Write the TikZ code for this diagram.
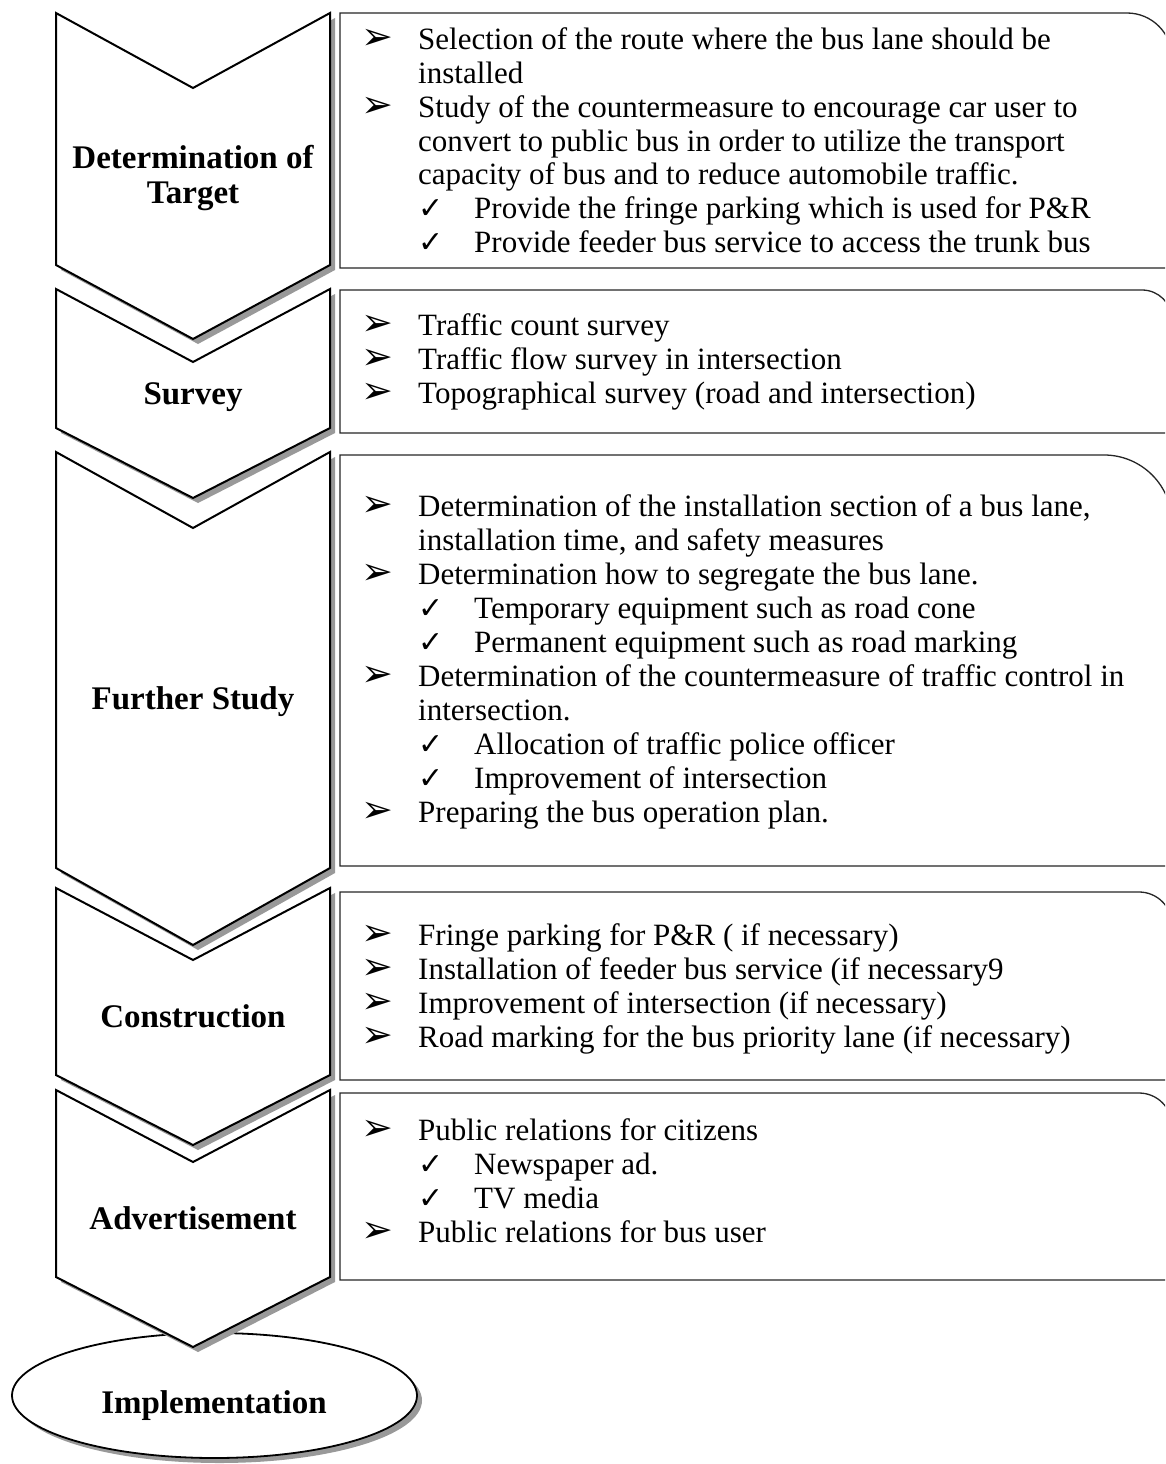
\documentclass[tikz,border=0pt]{standalone}
\usepackage{fontspec}
\setmainfont{Liberation Serif}
\newfontfamily\symf{DejaVu Sans}
\usetikzlibrary{shapes.geometric}
\tikzset{
  chevline/.style={draw=black, line width=2pt, fill=white, line join=miter},
  shadowfill/.style={fill=black!40},
  panel/.style={draw=black!85, line width=1.3pt, fill=white},
  title/.style={font=\fontsize{33pt}{35pt}\selectfont\bfseries, inner sep=0pt, anchor=base},
  itemtext/.style={font=\fontsize{31pt}{34pt}\selectfont, inner sep=0pt, anchor=base west},
  arrowbul/.style={font=\symf\fontsize{38pt}{38pt}\selectfont, inner sep=0pt, anchor=base west, text height=20pt, text depth=0pt},
  checkbul/.style={font=\symf\fontsize{30pt}{30pt}\selectfont, inner sep=0pt, anchor=base west, text height=18pt, text depth=0pt},
}
% chevron: top, notch, bottom corners, tip
\newcommand\chevshape[4]{%
  \fill[shadowfill] (61,#1+5) -- (198,#2+5) -- (335,#1+5) -- (335,#3+5) -- (198,#4+5) -- (61,#3+5) -- cycle;
  \draw[chevline] (56,#1) -- (193,#2) -- (330,#1) -- (330,#3) -- (193,#4) -- (56,#3) -- cycle;}
% panel: top, bottom, corner radius
\newcommand\panelshape[3]{%
  \draw[panel] (340,#2) -- (340,#1) -- ({1172-#3},#1) .. controls ({1172-0.4477*#3},#1) and (1172,{#1+0.4477*#3}) .. (1172,{#1+#3}) -- (1172,#2) -- cycle;}
\newcommand\bulA[3]{\node[arrowbul] (#1m) at (361,#2) {➢}; \node[itemtext] (#1) at (418,#2) {#3};}
\newcommand\bulI[3]{\node[itemtext] (#1) at (418,#2) {#3};}
\newcommand\bulC[3]{\node[checkbul] (#1m) at (418,#2) {✓}; \node[itemtext] (#1) at (474,#2) {#3};}
\begin{document}
\begin{tikzpicture}[x=1pt,y=-1pt]
\useasboundingbox (0,0) rectangle (1165,1464);
\clip (0,0) rectangle (1165,1464);
% panels
\panelshape{13}{268}{45}
\panelshape{290}{433}{30}
\panelshape{455}{866}{68}
\panelshape{892}{1080}{33}
\panelshape{1093}{1280}{33}
% panel 1 text
\bulA{a1}{50}{Selection of the route where the bus lane should be}
\bulI{a2}{83.7}{installed}
\bulA{a3}{117.4}{Study of the countermeasure to encourage car user to}
\bulI{a4}{151.1}{convert to public bus in order to utilize the transport}
\bulI{a5}{184.8}{capacity of bus and to reduce automobile traffic.}
\bulC{a6}{218.5}{Provide the fringe parking which is used for P\&R}
\bulC{a7}{252.2}{Provide feeder bus service to access the trunk bus}
% panel 2 text
\bulA{b1}{335}{Traffic count survey}
\bulA{b2}{369}{Traffic flow survey in intersection}
\bulA{b3}{403}{Topographical survey (road and intersection)}
% panel 3 text
\bulA{c1}{516}{Determination of the installation section of a bus lane,}
\bulI{c2}{550}{installation time, and safety measures}
\bulA{c3}{584}{Determination how to segregate the bus lane.}
\bulC{c4}{618}{Temporary equipment such as road cone}
\bulC{c5}{652}{Permanent equipment such as road marking}
\bulA{c6}{686}{Determination of the countermeasure of traffic control in}
\bulI{c7}{720}{intersection.}
\bulC{c8}{754}{Allocation of traffic police officer}
\bulC{c9}{788}{Improvement of intersection}
\bulA{c10}{822}{Preparing the bus operation plan.}
% panel 4 text
\bulA{d1}{945}{Fringe parking for P\&R ( if necessary)}
\bulA{d2}{979}{Installation of feeder bus service (if necessary9}
\bulA{d3}{1013}{Improvement of intersection (if necessary)}
\bulA{d4}{1047}{Road marking for the bus priority lane (if necessary)}
% panel 5 text
\bulA{e1}{1140}{Public relations for citizens}
\bulC{e2}{1174}{Newspaper ad.}
\bulC{e3}{1208}{TV media}
\bulA{e4}{1242}{Public relations for bus user}
% implementation ellipse
\fill[shadowfill] (219.5,1400.5) ellipse [x radius=202.5pt, y radius=62.5pt];
\node[draw=black, ellipse, line width=1.8pt, fill=white, minimum width=405pt, minimum height=125pt, inner sep=0pt] (impl) at (214.5,1395.5) {};
\node[title] (implt) at (214,1413) {Implementation};
% chevrons
\chevshape{13}{88}{265}{339}
\chevshape{289}{362}{428}{498}
\chevshape{452}{528}{868}{945}
\chevshape{888}{960}{1075}{1145}
\chevshape{1090}{1162}{1277}{1347}
% titles
\node[title] (t1a) at (193,168) {Determination of};
\node[title] (t1b) at (193,203) {Target};
\node[title] (t2) at (193,404) {Survey};
\node[title] (t3) at (193,709) {Further Study};
\node[title] (t4) at (193,1027) {Construction};
\node[title] (t5) at (193,1229) {Advertisement};
\end{tikzpicture}
\end{document}
